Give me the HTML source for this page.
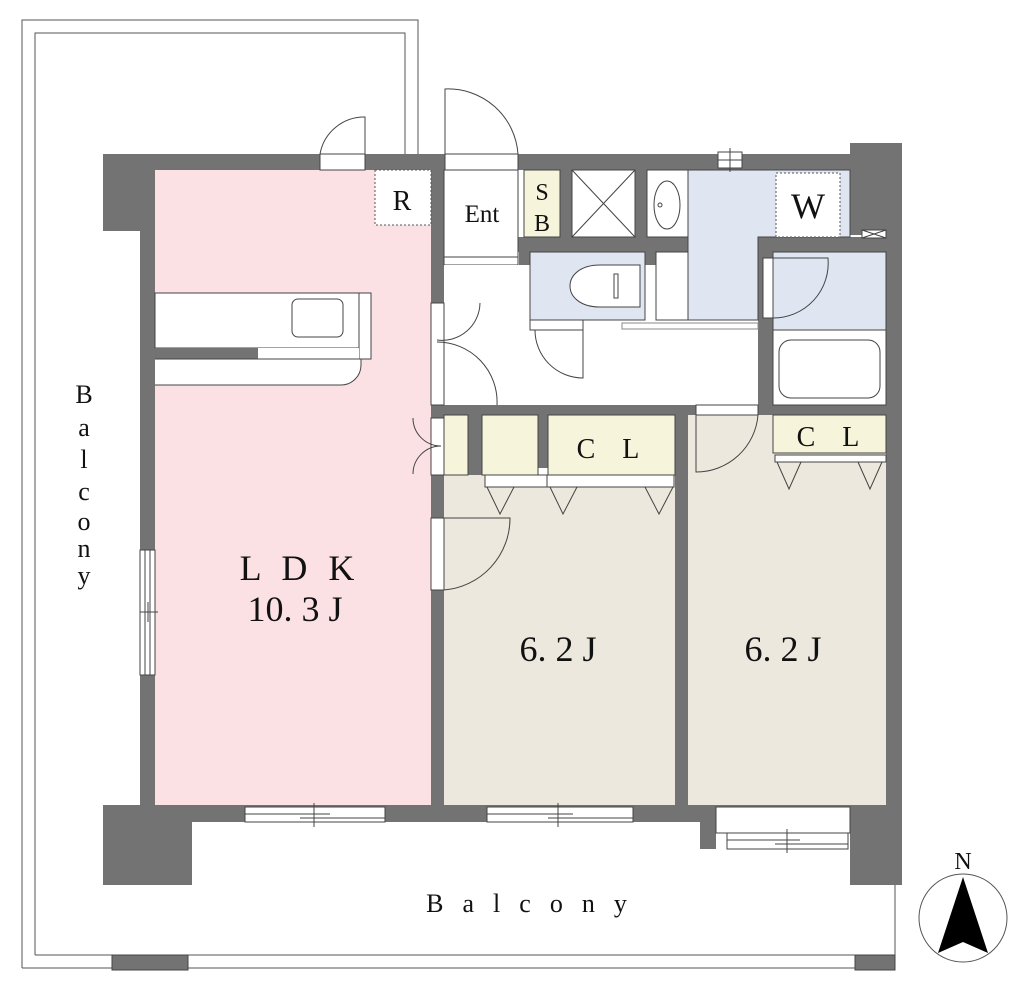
<!DOCTYPE html>
<html><head><meta charset="utf-8"><style>
html,body{margin:0;padding:0;background:#fff;}
svg{display:block;}
text{font-family:"Liberation Serif",serif;fill:#111;}
</style></head><body>
<svg width="1024" height="986" viewBox="0 0 1024 986" xmlns="http://www.w3.org/2000/svg">
<g fill="none" stroke="#555" stroke-width="1">
<path d="M22 968 V20 H418 V154"/>
<path d="M35 955 V33 H405 V154"/>
<path d="M22 968 H895 V884"/>
<path d="M35 955 H855"/>
</g>
<rect x="112" y="955" width="76" height="15" fill="#737373" stroke="#444"/>
<rect x="855" y="955" width="40" height="15" fill="#737373" stroke="#444"/>

<!-- walls -->
<g fill="#737373">
<rect x="103" y="154" width="799" height="16"/>
<rect x="103" y="154" width="89" height="77"/>
<rect x="140" y="154" width="15" height="668"/>
<rect x="850" y="143" width="52" height="92"/>
<rect x="886" y="143" width="16" height="741"/>
<rect x="103" y="805" width="89" height="80"/>
<rect x="103" y="805" width="799" height="17"/>
<rect x="850" y="805" width="52" height="80"/>
<rect x="700" y="805" width="16" height="44"/>
<rect x="431" y="154" width="13" height="668"/>
<rect x="675" y="405" width="13" height="417"/>
<rect x="431" y="405" width="455" height="10"/>
<rect x="518" y="237" width="250" height="15"/>
<rect x="519" y="237" width="11" height="93"/>
<rect x="519" y="320" width="120" height="10"/>
<rect x="645" y="237" width="11" height="93"/>
<rect x="758" y="237" width="15" height="228"/>
<rect x="758" y="237" width="128" height="15"/>
<rect x="560" y="170" width="12" height="70"/>
<rect x="635" y="170" width="12" height="70"/>
<rect x="468" y="415" width="14" height="60"/>
<rect x="538" y="415" width="10" height="53"/>
<rect x="763" y="415" width="10" height="50"/>
</g>

<!-- rooms -->
<rect x="155" y="170" width="276" height="635" fill="#fce1e4"/>
<rect x="444" y="475" width="231" height="330" fill="#ece8de"/>
<rect x="688" y="415" width="198" height="390" fill="#ece8de"/>
<rect x="444" y="170" width="74" height="87" fill="#fff" stroke="#444"/>
<rect x="444" y="257" width="74" height="8" fill="#fff" stroke="#444"/>
<rect x="444" y="265" width="314" height="140" fill="#fff"/>
<rect x="530" y="330" width="228" height="75" fill="#fff"/>
<rect x="524" y="170" width="36" height="67" fill="#f6f4db" stroke="#444"/>
<rect x="572" y="170" width="63" height="67" fill="#fff" stroke="#444"/>
<path d="M572 170 L635 237 M635 170 L572 237" stroke="#444"/>
<rect x="647" y="170" width="41" height="67" fill="#fff" stroke="#444"/>
<ellipse cx="667" cy="205" rx="13" ry="24" fill="none" stroke="#444"/>
<circle cx="660" cy="205" r="2" fill="none" stroke="#444"/>
<path d="M688 170 H850 V237 H758 V320 H688 Z" fill="#dfe6f2" stroke="#444"/>
<rect x="776" y="173" width="64" height="64" fill="#fff" stroke="#555" stroke-dasharray="2,2"/>
<rect x="862" y="230" width="24" height="8" fill="#fff" stroke="#444"/>
<path d="M862 230 L886 238 M886 230 L862 238" stroke="#444"/>
<rect x="718" y="152" width="24" height="16" fill="#fff" stroke="#444"/>
<path d="M718 160 H742 M730 148 V172" stroke="#444"/>
<rect x="530" y="252" width="115" height="68" fill="#dfe6f2" stroke="#444"/>
<path d="M600 265 H640 V307 H600 C560 307 560 265 600 265 Z" fill="#fff" stroke="#444"/>
<rect x="614" y="274" width="4" height="24" fill="#fff" stroke="#444"/>
<rect x="656" y="252" width="32" height="68" fill="#fff" stroke="#444"/>
<rect x="622" y="323" width="136" height="6" fill="#fff" stroke="#888"/>
<rect x="530" y="320" width="53" height="10" fill="#fff" stroke="#444"/>
<path d="M583 330 V378 A48 48 0 0 1 535 330" fill="none" stroke="#444"/>
<rect x="773" y="252" width="113" height="78" fill="#dfe6f2" stroke="#444"/>
<rect x="763" y="258" width="10" height="60" fill="#fff" stroke="#444"/>
<path d="M773 318 A55 55 0 0 0 828 258 H773" fill="none" stroke="#444"/>
<rect x="773" y="330" width="113" height="75" fill="#fff" stroke="#444"/>
<rect x="779" y="340" width="101" height="58" rx="12" fill="#fff" stroke="#444"/>
<!-- closets -->
<rect x="444" y="415" width="24" height="60" fill="#f6f4db" stroke="#444"/>
<rect x="482" y="415" width="56" height="60" fill="#f6f4db" stroke="#444"/>
<rect x="548" y="415" width="127" height="60" fill="#f6f4db" stroke="#444"/>
<rect x="485" y="475" width="62" height="12" fill="#fff" stroke="#444"/>
<rect x="547" y="475" width="127" height="12" fill="#fff" stroke="#444"/>
<path d="M487 487 L500 514 L514 487 M550 487 L563 514 L577 487 M645 487 L659 514 L673 487" fill="none" stroke="#444"/>
<rect x="773" y="415" width="113" height="38" fill="#f6f4db" stroke="#444"/>
<rect x="775" y="455" width="111" height="7" fill="#fff" stroke="#444"/>
<path d="M777 462 L789 489 L801 462 M858 462 L870 489 L882 462" fill="none" stroke="#444"/>
<!-- doors -->
<rect x="320" y="154" width="45" height="16" fill="#fff" stroke="#444"/>
<path d="M365 154 V117 A45 45 0 0 0 320 154" fill="none" stroke="#444"/>
<rect x="445" y="154" width="73" height="16" fill="#fff" stroke="#444"/>
<path d="M445 154 V89 A70 70 0 0 1 518 154" fill="none" stroke="#444"/>
<rect x="431" y="303" width="13" height="102" fill="#fff" stroke="#444"/>
<path d="M437 340 A38 38 0 0 0 480 303 M437 342 A60 60 0 0 1 497 405" fill="none" stroke="#444"/>
<rect x="431" y="418" width="13" height="57" fill="#fff" stroke="#444"/>
<path d="M441 446 A28 28 0 0 1 413 418 M441 446 A28 28 0 0 0 413 474" fill="none" stroke="#444"/>
<rect x="431" y="518" width="13" height="72" fill="#fff" stroke="#444"/>
<path d="M444 590 A72 72 0 0 0 510 518 H444" fill="none" stroke="#444"/>
<rect x="696" y="405" width="62" height="10" fill="#fff" stroke="#444"/>
<path d="M696 415 V472 A62 62 0 0 0 758 415" fill="none" stroke="#444"/>
<!-- kitchen -->
<rect x="155" y="293" width="204" height="55" fill="#fff" stroke="#444"/>
<rect x="359" y="293" width="12" height="66" fill="#fff" stroke="#444"/>
<rect x="258" y="348" width="101" height="11" fill="#fff"/>
<rect x="155" y="348" width="103" height="11" fill="#737373"/>
<path d="M155 359 H361 V365 A20 20 0 0 1 341 385 H155" fill="#fff" stroke="#444"/>
<rect x="292" y="299" width="51" height="38" rx="6" fill="#fff" stroke="#444"/>
<rect x="375" y="170" width="56" height="55" fill="#fff" stroke="#555" stroke-dasharray="2,2"/>
<!-- windows -->
<rect x="140" y="550" width="15" height="125" fill="#fff" stroke="#444"/>
<path d="M145 550 V675 M150 550 V675 M140 612 H158 M148 602 V622" stroke="#444"/>
<rect x="245" y="807" width="140" height="15" fill="#fff" stroke="#444"/>
<path d="M245 814 H330 M300 818 H385 M314 803 V827" stroke="#444"/>
<rect x="487" y="807" width="146" height="15" fill="#fff" stroke="#444"/>
<path d="M487 814 H573 M548 818 H633 M558 803 V827" stroke="#444"/>
<rect x="716" y="807" width="134" height="26" fill="#fff" stroke="#444"/>
<rect x="727" y="833" width="121" height="16" fill="#fff" stroke="#444"/>
<path d="M727 840 H800 M775 844 H848 M787 829 V853" stroke="#444"/>
<!-- compass -->
<circle cx="963" cy="918" r="44" fill="#fff" stroke="#555"/>
<path d="M963 877 L988 953 L963 942 L938 953 Z" fill="#000"/>
<text x="963" y="869" font-size="24" text-anchor="middle">N</text>
<!-- labels -->
<text x="402" y="210" font-size="28" text-anchor="middle">R</text>
<text x="482" y="222" font-size="25" text-anchor="middle">Ent</text>
<text x="542" y="200" font-size="24" text-anchor="middle">S</text>
<text x="542" y="231" font-size="24" text-anchor="middle">B</text>
<text x="808" y="218" font-size="36" text-anchor="middle">W</text>
<text x="613" y="458" font-size="28" text-anchor="middle" letter-spacing="10">C L</text>
<text x="833" y="446" font-size="28" text-anchor="middle" letter-spacing="10">C L</text>
<text x="300" y="580" font-size="36" text-anchor="middle" letter-spacing="6">L D K</text>
<text x="295" y="621" font-size="36" text-anchor="middle">10. 3 J</text>
<text x="558" y="661" font-size="36" text-anchor="middle">6. 2 J</text>
<text x="783" y="661" font-size="36" text-anchor="middle">6. 2 J</text>
<text x="536" y="912" font-size="26" text-anchor="middle" letter-spacing="19">Balcony</text>
<g font-size="26" text-anchor="middle">
<text x="84" y="403">B</text><text x="84" y="436">a</text><text x="84" y="468">l</text>
<text x="84" y="500">c</text><text x="84" y="530">o</text><text x="84" y="557">n</text>
<text x="84" y="584">y</text>
</g>
</svg>
</body></html>
